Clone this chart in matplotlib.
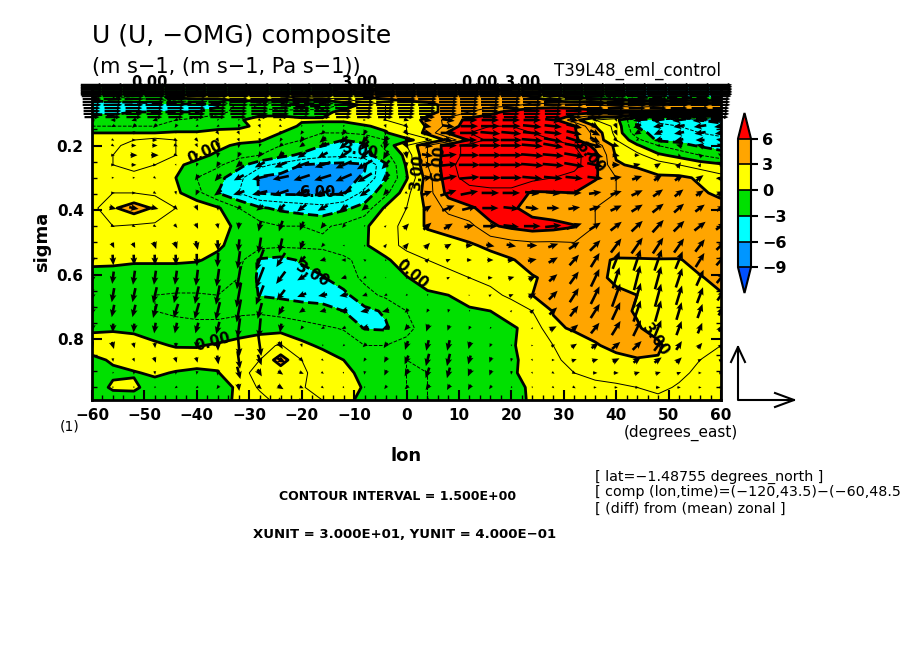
import numpy as np
import matplotlib
matplotlib.use("Agg")
import matplotlib.pyplot as plt
from matplotlib.colors import ListedColormap, BoundaryNorm

lon = [-60, -56, -52, -48, -44, -40, -36, -32, -28, -24, -20, -16, -12, -8, -4, 0,
       4, 8, 12, 16, 20, 24, 28, 32, 36, 40, 44, 48, 52, 56, 60]
sigma = [0.012, 0.034, 0.05, 0.074, 0.096, 0.121, 0.14, 0.161, 0.183, 0.2, 0.23, 0.26, 0.3, 0.347,
         0.394, 0.45, 0.51, 0.555, 0.61, 0.664, 0.713, 0.766, 0.82, 0.865, 0.905, 0.95, 0.99]

# zonal wind anomaly, m/s, one row per sigma level
u_wind = [
    [-1,-1,-1,-1,-1,-1,-1,-1,-1,-1, -1,-1,0,1,2,2,2,2,2,2, 1,0,-1,-1,-2,-2,-3,-3,-3,-3,-3],
    [-1.5,-1.5,-1.5,-1.5,-1.5,-1,-1,-1,-1,-1, -1,-.5,.5,3.5,4,4.5,4.5,4.5,4.5,4, 3,1,-1,-1.5,-2,-3,-4,-4.5,-4.5,-4.5,-4.5],
    [-2,-1.5,-1,-.5,.5,1,1,1,1.5,1.5, 2,2,2.5,3,3.5,4,4,4.5,4.5,4.5, 4,3,1,-.5,-1,-2,-3,-3.5,-3.5,-3.5,-3.5],
    [-4,-4,-4,-4,-3.5,-3.5,-3.5,-1,-2,-3, -3.5,-3.5,-1,.5,1.5,2,2.5,3.5,4,4, 4,5,5,5,4.5,4,3.5,4,4.5,4.5,4.5],
    [-3.5,-3.5,-3,-3,-3,-3,-2,-1,-1,-1, -.5,-.5,.5,1,1.5,2,2.5,3.5,4.5,5.5, 6.5,7,7.5,7,6.5,6.5,6.5,6.5,6.5,6.5,6.5],
    [-2,-2,-2,-2,-1.5,-1,-.5,-.3,1,1, .2,.2,.2,1,1.5,2,3.5,5,6.5,7, 7,7,6.5,3.5,1.5,.5,-3.2,-5,-5.5,-6,-6.5],
    [-1.5,-1.5,-1.5,-1.5,-1,-1,-1,-.5,.5,1, -.3,-.5,-.5,-.2,.5,1.5,3.2,5,7,7.5, 7.5,7.5,7,6.2,3,1,-3.1,-4,-4.5,-5,-5.5],
    [0,0,0,0,.2,.2,1,.8,.5,0, -1,-1.5,-1.5,-1.2,-.2,1.5,3.5,6.2,7.5,8, 8,7.5,7,6.2,4,1,-2.5,-3.5,-4,-4.5,-5],
    [.8,1,1.5,2,1.5,1.2,1,.5,.2,-.8, -1.5,-2.5,-3,-2.5,-1.5,-.5,1,3.5,6.2,8, 8.5,8.5,7.5,6.5,4,1.5,-1,-3.3,-3.4,-3.6,-4],
    [1,1.2,2,2.2,1.5,.8,.4,-.3,-.5,-1.5, -2,-3,-3.5,-3.3,-1,1.5,4.5,6.8,8,8.5, 8.5,8.5,8,7.5,5.5,2.5,.2,-1.5,-2.5,-3.2,-3.5],
    [1,1.5,2.8,3,1.5,.5,-.3,-1,-1.5,-2.5, -3.3,-4,-4.2,-3.6,-2,.5,4.5,6.8,8,9, 9,9,8.5,8,6.5,2.8,2,.3,-.5,-1.5,-2.5],
    [1,1.5,2,1.5,.3,-.5,-1.2,-2.5,-4,-5, -6,-6.3,-6.5,-6.2,-3.2,.2,4.5,7,8.5,9, 9,9,8.5,8,6.4,3.2,2.7,2.3,1.5,.8,.3],
    [1,1,1,1,0,-1.5,-2.5,-4,-6.2,-6.5, -6.5,-6.8,-6.5,-5.8,-3.2,-.2,3.8,7,8,8.5, 8.5,8,7.5,7,6.2,4.5,4,3.2,3.3,2.8,2],
    [1.5,1.5,1.5,1.2,.3,-1,-3,-4.5,-6.1,-6.3, -6.3,-6.3,-6.2,-4,-2,1,3.8,6.5,7,7, 7,5.8,5.9,6,5,4.5,4.5,4,3.5,3.2,2.7],
    [1,2.8,3.8,2.8,1.5,1,.2,-1.5,-2.8,-3.3, -3.7,-4,-3.3,-2.5,.3,1.5,3.3,5,5.8,6.5, 6.3,5.3,5,4.7,4.5,4.5,4.5,4.5,4,3.8,3.5],
    [1.5,1.5,1.3,1.2,1.2,1,.5,-.3,-1,-1.5, -1.5,-1.7,-1.2,-.2,.8,2,3.2,3.5,4,5.8, 6.3,6.7,6.5,6.1,4.5,4.5,4.5,4.5,4.3,4.5,4],
    [1,1,1,1,1,.8,.2,-.5,-1,-1.2, -1.2,-1.2,-.8,-.2,1,1.8,2,2.5,2.8,3.3, 3.8,4,4,4.2,4.2,4.2,4.5,4.2,4,3.8,3.7],
    [.3,.3,.2,.2,.2,.1,-.3,-1,-3.2,-3.5, -2.8,-2.3,-1.8,-1,-.3,1,1.5,1.8,2,2.5, 2.9,3.5,3.7,3.8,3.5,2.8,2.8,2.9,2.9,3.5,3.7],
    [-.5,-.6,-.8,-.8,-.8,-.8,-1,-1.5,-3.3,-3.7, -3.6,-3.1,-2.2,-1.2,-.5,-.1,.8,1.2,1.5,1.9, 2.4,2.9,3.3,3.6,3.4,2.7,2.5,2.5,2.6,2.9,3.4],
    [-.8,-1,-1.2,-1.5,-1.6,-1.6,-1.5,-1.8,-3.1,-3.3, -3.6,-3.6,-3.4,-2,-1.2,-.7,-.3,0,.6,1.1, 1.8,3,3.5,3.6,3.5,3.3,3,2.5,2.4,2.4,2.9],
    [-.8,-1,-1.2,-1.5,-1.8,-1.8,-1.7,-1.7,-1.7,-2, -2.2,-2.5,-3,-3.4,-2.8,-1.5,-.8,-.4,-.2,0, .7,1.5,3.1,3.3,3.6,3.3,2.9,2.4,2.1,2,1.9],
    [-.3,-.2,-.3,-.6,-.9,-1.2,-1.3,-1,-.7,-.6, -1,-1.3,-1.6,-3.1,-3.2,-1.8,-1,-.8,-.7,-.5, -.2,.5,2.7,3.2,3.4,3.5,3.1,2.6,2.1,1.8,1.6],
    [.8,.8,.6,.2,-.1,-.1,.2,.7,1.2,1.6, .4,-.3,-.8,-1.5,-1.5,-1.2,-1,-1,-.8,-.7, -.2,.8,1.5,2.2,2.9,3.3,3.6,3.2,2.3,1.8,1.5],
    [-.4,.2,.6,.8,.7,.6,.5,1,1.5,3.8, 1.5,.8,0,-.8,-1.2,-1.5,-1.3,-1.2,-1,-.8, -.3,.6,1.2,2,2.4,2.7,2.9,2.9,2.2,1.5,1.5],
    [-.8,-.3,-.1,.2,-.1,-.3,-.1,1.3,1.7,2, 1.7,1,.3,-.3,-1,-1.5,-1.5,-1.2,-1.2,-.8, -.2,.5,1,1.5,1.8,2,2.2,2.1,1.7,1.3,1.5],
    [-1,.3,.2,-.5,-1,-1,-1,.4,1.7,2.3, 1.6,1,.5,-.1,-1,-1.5,-1.5,-1.2,-1.2,-1, -.4,.2,.8,1.2,1.2,1.3,1.5,1.7,1.4,1.2,1.3],
    [-1,-1,-.5,-1,-1,-1,-1,.5,1,2, 2,1.5,.5,-.5,-1,-1.5,-1.5,-1,-1,-1, -.5,.2,.7,1,1.2,1.2,1.3,1.3,1.4,1.4,1.4],
]

# -omega in 0.01 Pa/s for the rows from sigma 0.121 down
omega_up = [
    [0,0,-1,-1,-1,-1,-1,-1,-1,-1,0,0,0,0,-1,-1,-1,-1,0,0,0,0,-1,-1,-2,-2,-1,-1,-1,-1,0],
    [-1,-1,-2,-2,-2,-1,-1,-2,-2,-1,-1,-1,-1,-1,-2,-2,-1,-1,0,0,0,-1,-1,-2,-3,-3,-2,-1,-1,-1,-1],
    [-1,-1,-2,-1,-1,-1,-2,-2,-1,-2,-2,-2,-3,-3,-3,-3,-1,0,0,-1,-1,-1,-1,-2,-3,-3,-2,-2,-1,-1,-1],
    [-1,-1,0,0,-1,-2,-2,-2,-2,-2,-3,-3,-4,-4,-4,-4,-2,-1,0,0,0,-1,-2,-3,-3,-2,-1,-1,-1,0,1],
    [-1,-1,0,0,-1,-2,-3,-3,-2,-2,-2,-3,-4,-5,-5,-4,-1,0,0,0,0,-1,-2,-2,-2,-1,0,0,1,1,2],
    [0,0,0,0,-1,-2,-3,-3,-3,-3,-3,-3,-4,-5,-5,-4,-1,1,0,0,0,-1,-1,-2,-2,-1,0,1,2,2,2],
    [0,0,0,0,-1,-2,-3,-3,-3,-3,-3,-3,-4,-5,-5,-3,0,1,0,0,0,-1,-1,-2,-2,0,1,2,3,2,2],
    [0,0,0,-1,-1,-3,-4,-3,-2,-2,-3,-3,-4,-5,-4,-2,1,2,1,0,0,-1,-1,-1,-1,1,2,3,3,3,2],
    [0,0,0,-1,-2,-3,-3,-2,-2,-3,-3,-3,-3,-4,-3,-1,2,3,2,0,0,-1,-1,0,1,2,3,4,4,3,2],
    [0,-1,-1,-1,-2,-3,-3,-2,-3,-4,-4,-3,-3,-3,-1,1,3,3,2,0,-1,-1,0,1,2,3,4,5,5,4,3],
    [-1,-1,-1,-1,-2,-3,-3,-4,-6,-6,-5,-3,-2,-1,1,3,4,3,1,0,-1,0,1,3,4,5,6,7,6,5,4],
    [-3,-3,-3,-4,-4,-5,-6,-7,-9,-8,-5,-2,0,1,2,3,3,2,0,-1,-1,0,2,4,6,8,9,9,8,7,5],
    [-6,-6,-6,-6,-6,-7,-8,-10,-12,-8,-4,-1,0,1,1,2,2,1,0,0,0,1,3,6,8,10,12,12,10,8,6],
    [-7,-7,-8,-8,-8,-9,-10,-13,-12,-7,-3,-1,-1,-1,0,1,1,1,0,0,1,2,4,7,10,12,14,13,11,9,6],
    [-7,-8,-8,-9,-9,-10,-11,-14,-11,-6,-2,-1,-1,-1,-1,-1,-1,0,0,1,1,2,5,8,10,13,14,13,11,9,6],
    [-6,-7,-7,-8,-8,-9,-10,-13,-9,-5,-2,-1,-1,-1,-1,-2,-2,-2,-1,0,1,2,4,6,8,10,12,12,10,8,5],
    [-5,-5,-5,-6,-6,-6,-7,-11,-11,-5,-2,-1,-1,-1,-2,-3,-4,-3,-2,-1,0,1,2,4,6,8,9,9,8,6,4],
    [-4,-4,-3,-3,-3,-4,-6,-12,-12,-4,-2,-1,-1,-2,-3,-5,-6,-6,-4,-2,-1,0,1,2,3,4,5,6,5,3,2],
    [-2,-2,-2,-3,-3,-3,-5,-10,-6,-3,-2,-1,-1,-2,-3,-5,-7,-7,-5,-3,-2,-1,0,1,1,2,3,3,3,1,1],
    [-1,-1,-2,-2,-2,-2,-3,-7,-4,-2,-1,-1,-1,-2,-3,-4,-6,-6,-4,-3,-2,-1,-1,-1,0,0,1,1,1,0,0],
    [-1,-1,-1,-1,-1,-1,-2,-4,-2,-2,-1,-1,-1,-1,-2,-2,-3,-3,-3,-2,-1,-1,-1,-1,0,0,0,0,0,0,0],
    [0,0,0,0,0,0,-1,-1,-1,-1,0,0,0,0,-1,-1,-1,-1,-1,-1,0,0,0,0,0,0,0,0,0,0,0],
]

# stratosphere rows, long arrows that run together in the plot
top_sigma = [0.012, 0.017, 0.022, 0.027, 0.032, 0.037, 0.042, 0.047, 0.056, 0.065, 0.074, 0.084, 0.093, 0.102, 0.112]
top_u = [12, 12, 12, 12, 12, 12, 12, 11, 10, 10, 10, 9, 9, 9, 8]

levels = [-9, -6, -3, 0, 3, 6]
contour_levels = [-9, -7.5, -6, -4.5, -3, -1.5, 0, 1.5, 3, 4.5, 6, 7.5, 9]
colors = ["#0050ff", "#0096ff", "#00ffff", "#00e000", "#ffff00", "#ffa500", "#ff0000"]

W, H = 904, 654
fig = plt.figure(figsize=(9.04, 6.54), dpi=100)

def px_axes(x0, y0, x1, y1):
    return fig.add_axes([x0 / W, 1 - y1 / H, (x1 - x0) / W, (y1 - y0) / H])

ax = px_axes(92, 85, 721, 400)
u = np.array(u_wind, dtype=float)
w = np.array(omega_up, dtype=float)
cmap = ListedColormap(colors[1:-1])
cmap.set_under(colors[0])
cmap.set_over(colors[-1])
norm = BoundaryNorm(levels, cmap.N)

cf = ax.contourf(lon, sigma, u, levels=levels, cmap=cmap, norm=norm, extend="both")
thin = [l for l in contour_levels if l % 3 != 0]
thick = [l for l in contour_levels if l % 3 == 0]
ax.contour(lon, sigma, u, levels=thin, colors="k", linewidths=0.7)
ax.contour(lon, sigma, u, levels=thick, colors="k", linewidths=2.0)

# unit vectors: 30 m/s = 56 px, 0.4 Pa/s = 53 px, drawn a bit longer to fit the picture
xg, yg = np.meshgrid(lon, sigma[5:])
ax.quiver(xg, yg, u[5:] * 56 / 30, w * 0.01 * 53 / 0.4, angles="uv", scale_units="dots", scale=0.75,
          pivot="mid", width=2.6, units="dots", headwidth=2.6, headlength=3, headaxislength=2.6,
          minlength=0.2, color="k", zorder=4)
xt, yt = np.meshgrid(lon, top_sigma)
ut = np.array(top_u, dtype=float)[:, None] * np.ones(len(lon))
ax.quiver(xt, yt, ut * 56 / 30, ut * 0, angles="uv", scale_units="dots", scale=1,
          pivot="mid", width=2.2, units="dots", headwidth=1.8, headlength=2, headaxislength=2,
          color="k", zorder=4, clip_on=False)

ax.set_xlim(-60, 60)
ax.set_ylim(0.989, 0.0124)
ax.set_xticks(np.arange(-60, 61, 10))
ax.set_xticks(np.arange(-60, 61, 2), minor=True)
ax.set_yticks([0.2, 0.4, 0.6, 0.8])
ax.set_yticks(np.arange(0.05, 0.99, 0.05), minor=True)
ax.set_xticklabels(["\u2212%d" % abs(v) if v < 0 else str(v) for v in range(-60, 61, 10)])
ax.tick_params(which="major", direction="in", length=7, width=1.5, labelsize=11, pad=6, top=True, right=True)
ax.tick_params(which="minor", direction="in", length=3.5, width=1, top=True, right=True)
for lab in ax.get_xticklabels() + ax.get_yticklabels():
    lab.set_fontweight("bold")
for s in ax.spines.values():
    s.set_linewidth(2)

# contour labels
clabels = [("0.00", -38.5, 0.222, 25, 5), ("3.00", -9, 0.215, -10, 5), ("6.00", -17, 0.347, 0, 5),
           ("3.00", -18, 0.6, -30, 5), ("0.00", 1, 0.6, -40, 5), ("3.00", 2, 0.285, 85, 5),
           ("6.00", 6, 0.255, 85, 5), ("6.00", 35, 0.235, -50, 5), ("3.00", 47.5, 0.8, -55, 5),
           ("0.00", -37, 0.81, 15, 5), ("0.00", -49, 0.006, 0, 3), ("3.00", -9, 0.006, 0, 3),
           ("0.00", 14, 0.006, 0, 3), ("3.00", 22, 0.006, 0, 3)]
for txt, x, y, rot, order in clabels:
    ax.text(x, y, txt, fontsize=10.5, fontweight="bold", rotation=rot, ha="center", va="center", zorder=order,
            clip_on=False)

# colorbar
cax = px_axes(738, 113, 751, 293)
cb = fig.colorbar(cf, cax=cax, extend="both", extendfrac=0.2, drawedges=True, ticks=levels)
cb.ax.set_yticklabels(["\u22129", "\u22126", "\u22123", "0", "3", "6"], fontsize=11.5, fontweight="bold")
cb.ax.tick_params(length=5, width=1.5, pad=3)
cb.outline.set_linewidth(1.5)
cb.dividers.set_linewidth(1.2)

# everything else in pixel coordinates
ov = fig.add_axes([0, 0, 1, 1], facecolor="none")
ov.set_xlim(0, W)
ov.set_ylim(H, 0)
ov.axis("off")

ov.text(92, 36, "U (U, \u2212OMG) composite", fontsize=18, ha="left", va="center")
ov.text(92, 67, "(m s\u22121, (m s\u22121, Pa s\u22121))", fontsize=15, ha="left", va="center")
ov.text(721, 71, "T39L48_eml_control", fontsize=12, ha="right", va="center")
ov.text(42, 242, "sigma", fontsize=13, fontweight="bold", rotation=90, ha="center", va="center")
ov.text(70, 426, "(1)", fontsize=10, ha="center", va="center")
ov.text(681, 433, "(degrees_east)", fontsize=11, ha="center", va="center")
ov.text(406, 456, "lon", fontsize=13, fontweight="bold", ha="center", va="center")
ov.text(398, 497, "CONTOUR INTERVAL = 1.500E+00", fontsize=9, fontweight="bold", ha="center", va="center")
ov.text(405, 535, "XUNIT = 3.000E+01, YUNIT = 4.000E\u221201", fontsize=9.5, fontweight="bold", ha="center", va="center")
ov.text(595, 477, "[ lat=\u22121.48755 degrees_north ]", fontsize=10.3, ha="left", va="center")
ov.text(595, 492, "[ comp (lon,time)=(\u2212120,43.5)\u2212(\u221260,48.5", fontsize=10.3, ha="left", va="center")
ov.text(595, 509, "[ (diff) from (mean) zonal ]", fontsize=10.3, ha="left", va="center")

# reference vector
ov.plot([738, 738, 794], [347, 400, 400], color="k", lw=1.5)
ov.plot([731, 738, 745], [362, 347, 362], color="k", lw=1.5)
ov.plot([775, 794, 775], [393, 400, 407], color="k", lw=1.5)

fig.savefig("out.png", dpi=100)
